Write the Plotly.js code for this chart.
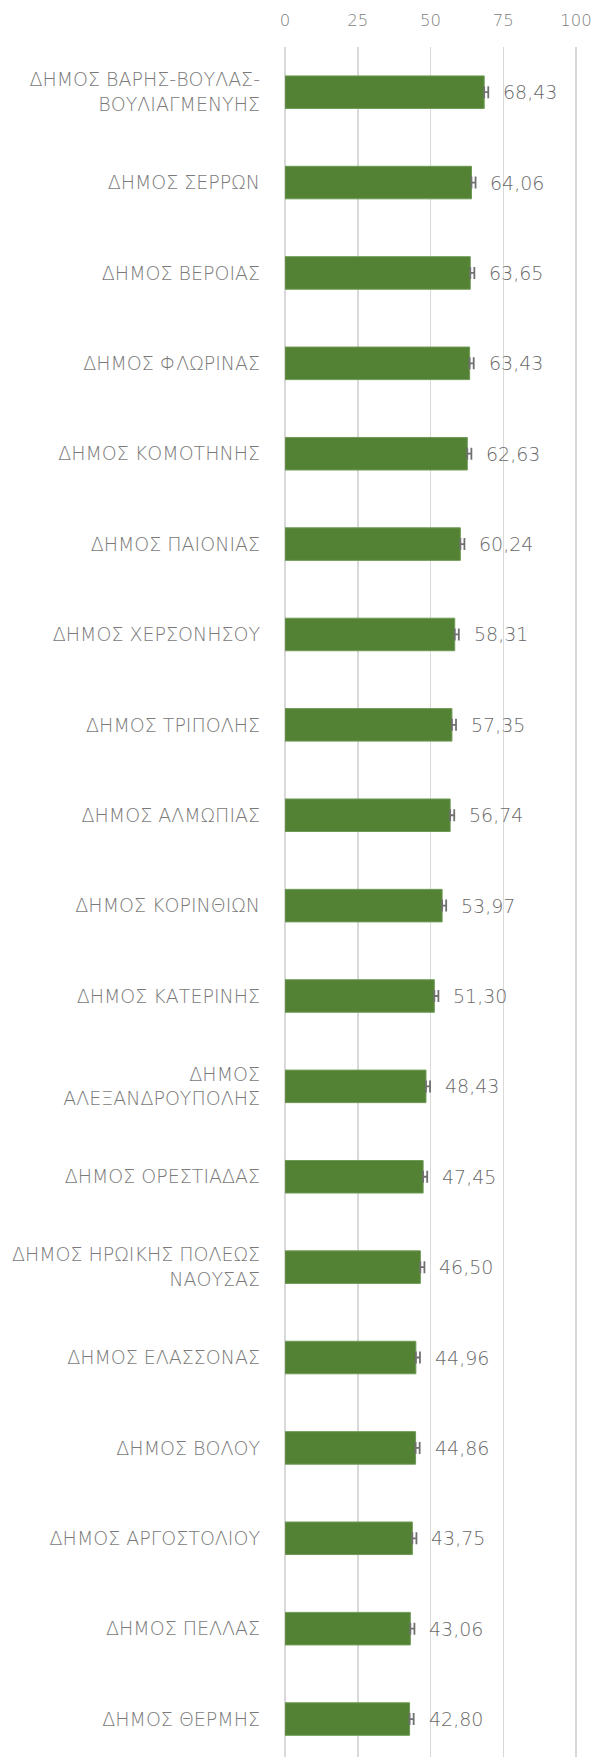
<!DOCTYPE html>
<html>
<head>
<meta charset="utf-8">
<script src="https://cdn.plot.ly/plotly-3.0.1.min.js"></script>
<style>html,body{margin:0;padding:0;background:#fff;}#chart{width:592px;height:1757px;}</style>
</head>
<body>
<div id="chart"></div>
<script>
const categories = [
  "ΔΗΜΟΣ ΒΑΡΗΣ-ΒΟΥΛΑΣ-<br>ΒΟΥΛΙΑΓΜΕΝΥΗΣ",
  "ΔΗΜΟΣ ΣΕΡΡΩΝ",
  "ΔΗΜΟΣ ΒΕΡΟΙΑΣ",
  "ΔΗΜΟΣ ΦΛΩΡΙΝΑΣ",
  "ΔΗΜΟΣ ΚΟΜΟΤΗΝΗΣ",
  "ΔΗΜΟΣ ΠΑΙΟΝΙΑΣ",
  "ΔΗΜΟΣ ΧΕΡΣΟΝΗΣΟΥ",
  "ΔΗΜΟΣ ΤΡΙΠΟΛΗΣ",
  "ΔΗΜΟΣ ΑΛΜΩΠΙΑΣ",
  "ΔΗΜΟΣ ΚΟΡΙΝΘΙΩΝ",
  "ΔΗΜΟΣ ΚΑΤΕΡΙΝΗΣ",
  "ΔΗΜΟΣ<br>ΑΛΕΞΑΝΔΡΟΥΠΟΛΗΣ",
  "ΔΗΜΟΣ ΟΡΕΣΤΙΑΔΑΣ",
  "ΔΗΜΟΣ ΗΡΩΙΚΗΣ ΠΟΛΕΩΣ<br>ΝΑΟΥΣΑΣ",
  "ΔΗΜΟΣ ΕΛΑΣΣΟΝΑΣ",
  "ΔΗΜΟΣ ΒΟΛΟΥ",
  "ΔΗΜΟΣ ΑΡΓΟΣΤΟΛΙΟΥ",
  "ΔΗΜΟΣ ΠΕΛΛΑΣ",
  "ΔΗΜΟΣ ΘΕΡΜΗΣ"
];
const values = [68.43, 64.06, 63.65, 63.43, 62.63, 60.24, 58.31, 57.35, 56.74, 53.97, 51.30, 48.43, 47.45, 46.50, 44.96, 44.86, 43.75, 43.06, 42.80];
const errPlus = [1.4,1.4,1.4,1.4,1.4,1.4,1.4,1.4,1.4,1.4,1.4,1.4,1.4,1.4,1.4,1.4,1.4,1.4,1.4];
const errMinus = [0,0,0,0,0,0,0,0,0,0,0,0,0,0,0,0,0,0,0];
const xTicks = [0, 25, 50, 75, 100];

const FONT = '"DejaVu Sans", "Noto Sans", sans-serif';

const trace = {
  type: 'bar',
  orientation: 'h',
  x: values,
  y: categories,
  width: 0.36,
  marker: {color: '#548235', line: {color: '#6f9a55', width: 1}},
  error_x: {type: 'data', symmetric: false, array: errPlus, arrayminus: errMinus,
            color: '#707070', thickness: 1.8, width: 6},
  hoverinfo: 'none'
};

const annotations = values.map((v, i) => ({
  x: v, y: categories[i], xref: 'x', yref: 'y',
  text: v.toFixed(2).replace('.', ','),
  showarrow: false, xanchor: 'left', yanchor: 'middle', xshift: 17,
  font: {family: FONT, size: 19, color: '#6a6a6a', weight: 300}
}));

const layout = {
  width: 592, height: 1757,
  margin: {l: 285, r: 13, t: 47, b: 0, pad: 0},
  paper_bgcolor: '#ffffff', plot_bgcolor: '#ffffff',
  showlegend: false,
  xaxis: {
    side: 'top', range: [0, 101], tickvals: xTicks, ticktext: xTicks.map(String),
    showgrid: true, gridcolor: '#d9d9d9', gridwidth: 1.5,
    zeroline: true, zerolinecolor: '#d9d9d9', zerolinewidth: 1.5,
    showline: false, ticks: '', ticklabelstandoff: 17,
    ticklabeloverflow: 'allow',
    tickfont: {family: FONT, size: 16.5, color: '#808080', weight: 300},
    fixedrange: true
  },
  yaxis: {
    type: 'category', categoryorder: 'array', categoryarray: categories,
    range: [18.42, -0.5],
    showgrid: false, zeroline: false, showline: false, ticks: '',
    ticklabelstandoff: 24,
    tickfont: {family: FONT, size: 19, color: '#7a7a7a', weight: 300},
    fixedrange: true
  },
  annotations: annotations
};

Plotly.newPlot('chart', [trace], layout, {displayModeBar: false, staticPlot: true});
</script>
</body>
</html>
